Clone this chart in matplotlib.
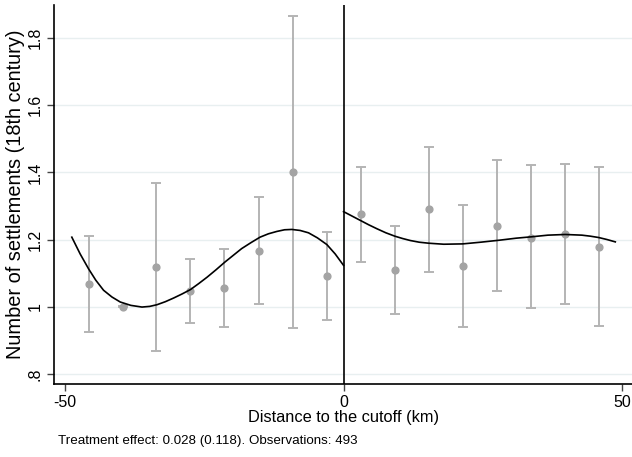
import matplotlib
matplotlib.use("Agg")
import matplotlib.pyplot as plt

plt.rcParams['font.family'] = ['Liberation Sans', 'DejaVu Sans']

# Binned means with confidence intervals (left of cutoff)
left_x = [-45.8, -39.6, -33.6, -27.5, -21.4, -15.2, -9.1, -3.05]
left_y = [1.068, 1.000, 1.118, 1.047, 1.057, 1.167, 1.401, 1.091]
left_lo = [0.925, 0.998, 0.869, 0.951, 0.940, 1.007, 0.936, 0.961]
left_hi = [1.210, 1.002, 1.368, 1.141, 1.173, 1.327, 1.866, 1.221]

# Binned means with confidence intervals (right of cutoff)
right_x = [3.06, 9.2, 15.3, 21.4, 27.5, 33.7, 39.8, 45.9]
right_y = [1.275, 1.109, 1.290, 1.121, 1.241, 1.206, 1.217, 1.179]
right_lo = [1.133, 0.978, 1.104, 0.940, 1.048, 0.995, 1.007, 0.943]
right_hi = [1.417, 1.239, 1.474, 1.302, 1.436, 1.421, 1.426, 1.417]

# Fitted curves
fitL_x = [-48.8, -47.3, -45.8, -44.5, -43.1, -41.6, -40.1, -38.2, -36.2, -34.8,
          -33.5, -32.0, -30.5, -29.0, -27.5, -26.0, -24.5, -22.9, -21.3, -19.8,
          -18.3, -16.6, -15.0, -13.5, -12.0, -10.6, -9.3, -7.8, -6.3, -4.7,
          -3.0, -1.5, 0.0]
fitL_y = [1.207, 1.157, 1.113, 1.079, 1.049, 1.029, 1.014, 1.004, 0.999, 1.001,
          1.006, 1.015, 1.026, 1.038, 1.051, 1.069, 1.088, 1.110, 1.133, 1.153,
          1.173, 1.191, 1.207, 1.217, 1.224, 1.229, 1.230, 1.227, 1.220, 1.205,
          1.185, 1.157, 1.123]
fitR_x = [0.0, 1.5, 3.0, 4.5, 6.0, 7.6, 9.2, 10.6, 12.0, 13.6, 15.3, 18.0, 21.4,
          24.6, 28.0, 31.0, 33.7, 36.7, 39.8, 42.8, 44.3, 45.8, 47.3, 48.8]
fitR_y = [1.283, 1.270, 1.257, 1.244, 1.232, 1.220, 1.210, 1.203, 1.197, 1.192,
          1.189, 1.186, 1.187, 1.192, 1.198, 1.204, 1.208, 1.213, 1.215, 1.213,
          1.210, 1.206, 1.200, 1.193]

yticks = [0.8, 1.0, 1.2, 1.4, 1.6, 1.8]
yticklabels = ['.8', '1', '1.2', '1.4', '1.6', '1.8']
xticks = [-50, 0, 50]
xticklabels = ['-50', '0', '50']

fig = plt.figure(figsize=(6.32, 4.57), dpi=100)
ax = fig.add_axes([54/632, (457-384)/457, (632-54)/632, (384-5)/457])

for y in yticks:
    ax.axhline(y, color='#e8eff0', lw=1.0, zorder=0)

ebcol = '#b4b4b4'
mcol = '#a4a4a4'
for xs, ys, lo, hi in [(left_x, left_y, left_lo, left_hi), (right_x, right_y, right_lo, right_hi)]:
    yerr = [[y - l for y, l in zip(ys, lo)], [h - y for y, h in zip(ys, hi)]]
    ax.errorbar(xs, ys, yerr=yerr, fmt='none', ecolor=ebcol, elinewidth=1.4,
                capsize=3.4, capthick=1.4, zorder=2)
    ax.plot(xs, ys, 'o', color=mcol, markersize=4.9, zorder=3)

ax.plot(fitL_x, fitL_y, color='black', lw=1.2, zorder=4, solid_joinstyle='round')
ax.plot(fitR_x, fitR_y, color='black', lw=1.2, zorder=4, solid_joinstyle='round')
ax.axvline(0, color='black', lw=1.2, zorder=5)

ax.set_xlim(-52, 51.8)
ax.set_ylim(0.77, 1.898)
ax.set_yticks(yticks)
ax.set_yticklabels(yticklabels, rotation=90, va='center', fontsize=11.5)
ax.set_xticks(xticks)
ax.set_xticklabels(xticklabels, fontsize=11.5)
ax.tick_params(axis='both', length=5, width=1.0, color='#444444', pad=3)

for s in ['top', 'right']:
    ax.spines[s].set_visible(False)
for s in ['left', 'bottom']:
    ax.spines[s].set_linewidth(1.2)

ax.set_xlabel('Distance to the cutoff (km)', fontsize=11.8, labelpad=0)
ax.set_ylabel('Number of settlements (18th century)', fontsize=14.4, labelpad=2)

fig.text(58/632, 1 - 441/457, 'Treatment effect: 0.028 (0.118). Observations: 493',
         fontsize=9.6, va='center', ha='left')

fig.savefig('out.png', dpi=100)
